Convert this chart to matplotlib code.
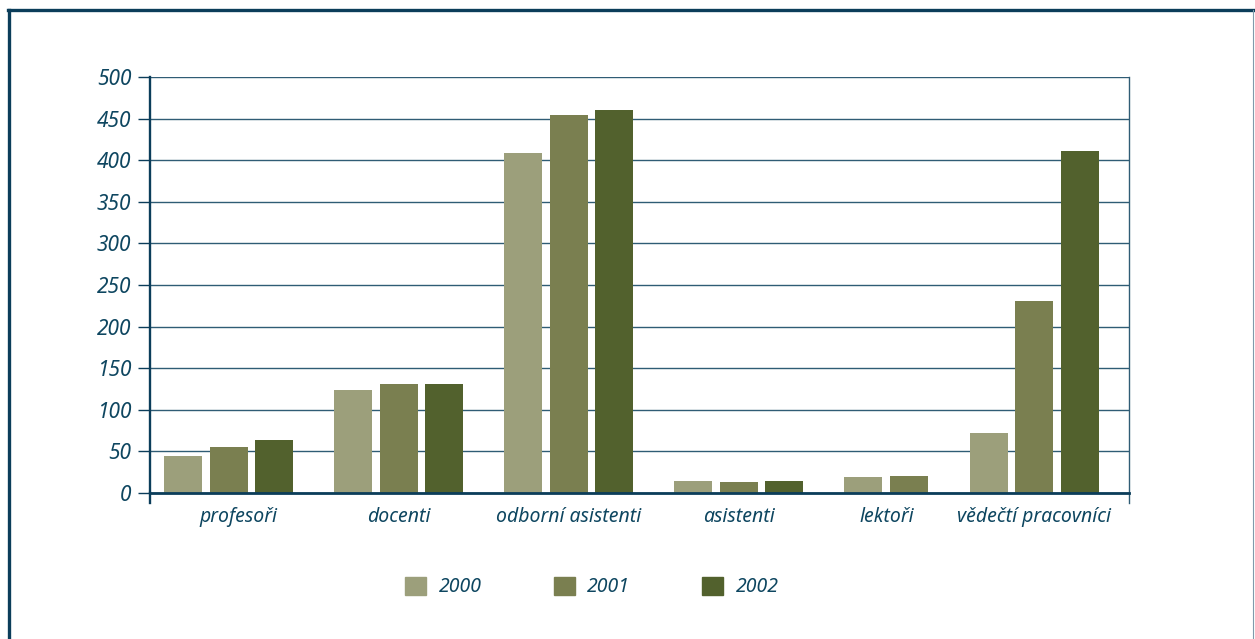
import matplotlib
matplotlib.use("Agg")
import matplotlib.pyplot as plt
import numpy as np
from matplotlib.lines import Line2D
from matplotlib.patches import Rectangle

categories = ["profesoři", "docenti", "odborní asistenti", "asistenti", "lektoři", "vědečtí pracovníci"]
years = ["2000", "2001", "2002"]
v2000 = [45, 124, 409, 14, 19, 72]
v2001 = [55, 131, 454, 13, 21, 231]
v2002 = [64, 131, 460, 14, 0, 411]
y_ticks = [0, 50, 100, 150, 200, 250, 300, 350, 400, 450, 500]

# layout (category slot positions as laid out in the reference)
group_pos = [0, 1, 2, 3, 4, 4.741]
label_pos = [0.06, 1.0, 2.0, 3.0, 3.87, 4.741]

colors = ["#9c9f7b", "#7a7f50", "#52612d"]
text_col = "#0e4660"
axis_col = "#0b3d5a"
grid_col = "#2f5c75"

W, H = 1255, 639
fig = plt.figure(figsize=(W / 100, H / 100), dpi=100)
ax = fig.add_axes([150 / W, (H - 493) / H, 979 / W, 416 / H])

series = [v2000, v2001, v2002]
bw = 0.2235
step = 0.2676
for i, (vals, col, yr) in enumerate(zip(series, colors, years)):
    xs = np.array(group_pos) + (i - 1) * step
    ax.bar(xs, vals, width=bw, color=col, label=yr, zorder=3, linewidth=0)

ax.set_xlim(-0.4618, 5.297)
ax.set_ylim(0, 500)
ax.set_yticks(y_ticks)
ax.set_yticklabels([str(t) for t in y_ticks])
ax.set_xticks(label_pos)
ax.set_xticklabels(categories)

for lab in ax.get_yticklabels():
    lab.set_fontfamily("Noto Sans"); lab.set_fontstyle("italic"); lab.set_fontsize(15); lab.set_color(text_col)
for lab in ax.get_xticklabels():
    lab.set_fontfamily("Noto Sans"); lab.set_fontstyle("italic"); lab.set_fontsize(14); lab.set_color(text_col)

ax.tick_params(axis="y", direction="out", length=8.5, width=1.0, color=axis_col, pad=5)
ax.tick_params(axis="x", length=0, pad=10)

ax.yaxis.grid(True, color=grid_col, linewidth=1.0, zorder=0)
ax.set_axisbelow(True)

ax.spines["top"].set_visible(False)
ax.spines["left"].set_color(axis_col)
ax.spines["left"].set_linewidth(1.7)
ax.spines["bottom"].set_color(axis_col)
ax.spines["bottom"].set_linewidth(2.0)
ax.spines["bottom"].set_zorder(4)
ax.spines["right"].set_color(grid_col)
ax.spines["right"].set_linewidth(1.0)

# spine extensions below the baseline
ext = 10 / 416
ax.add_line(Line2D([0, 0], [-ext, 0], transform=ax.transAxes, color=axis_col, lw=1.7, clip_on=False))
ax.add_line(Line2D([1, 1], [-ext, 0], transform=ax.transAxes, color=grid_col, lw=1.0, clip_on=False))

# legend
handles = [Rectangle((0, 0), 1, 1, color=c) for c in colors]
leg = fig.legend(handles, years, loc="center", bbox_to_anchor=(592 / W, 1 - 587 / H), ncol=3,
                 frameon=False, handlelength=1.08, handleheight=1.08, handletextpad=0.65,
                 columnspacing=3.68, prop=dict(family="Noto Sans", style="italic", size=14))
for t in leg.get_texts():
    t.set_color(text_col)

# outer frame
fig.add_artist(Line2D([8.5 / W, 8.5 / W], [0, 1 - 9.5 / H], transform=fig.transFigure, color=axis_col, lw=2.4))
fig.add_artist(Line2D([7.5 / W, 1254 / W], [1 - 9.5 / H, 1 - 9.5 / H], transform=fig.transFigure, color=axis_col, lw=2.4))
fig.add_artist(Line2D([1253 / W, 1253 / W], [0, 1 - 9.5 / H], transform=fig.transFigure, color="#7f9aab", lw=0.8))

fig.savefig("out.png", dpi=100)
